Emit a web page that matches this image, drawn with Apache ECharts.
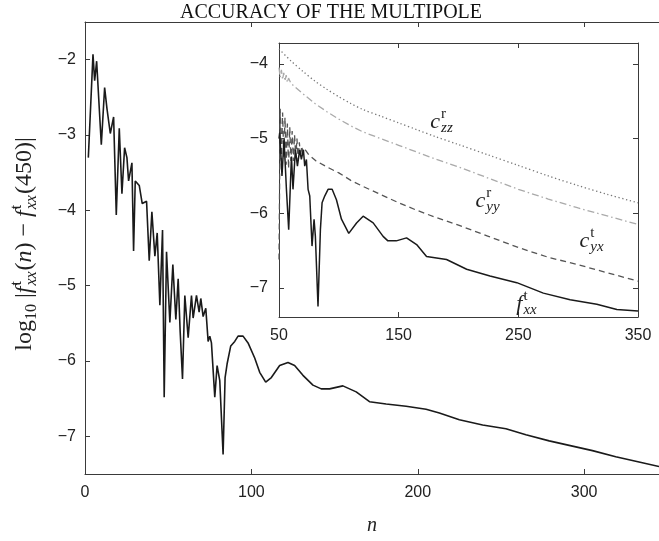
<!DOCTYPE html>
<html>
<head>
<meta charset="utf-8">
<script src="https://cdn.jsdelivr.net/npm/echarts@6/dist/echarts.min.js"></script>
<style>
  html, body { margin: 0; padding: 0; background: #fff; }
  #chart { width: 659px; height: 541px; }
</style>
</head>
<body>
<div id="chart"></div>
<script>
// main curve f_xx^t : [n, log10 error]
const fxxMain = [
  [2, -3.30], [4.8, -1.93], [5.8, -2.28], [7, -2.02], [9.8, -3.13], [11.8, -2.37],
  [13.2, -2.65], [15.2, -2.98], [17.2, -2.76], [18.8, -4.06], [20.6, -2.91], [22.2, -3.78],
  [23.8, -3.17], [25.2, -3.30], [26.2, -3.61], [28.2, -3.37], [29.2, -4.54], [30.2, -3.61],
  [32.6, -3.67], [34.4, -3.91], [37, -3.88], [38.6, -4.67], [40.2, -4.02], [42, -4.61],
  [43.4, -4.30], [45, -5.26], [46.6, -4.26], [47.6, -6.48], [49, -4.55], [51, -5.49],
  [52.8, -4.72], [54.6, -5.45], [56, -4.91], [57.2, -5.61], [58.6, -6.24], [60, -5.13],
  [62, -5.69], [64, -5.13], [65, -5.43], [67, -5.13], [68.6, -5.35], [69.6, -5.17],
  [71, -5.41], [72.6, -5.30], [74, -5.74], [75, -5.67], [76, -5.76], [78, -6.48],
  [79.4, -6.06], [81, -6.26], [83, -7.24], [84.2, -6.22], [85.4, -6.04], [86.6, -6.06],
  [87.6, -5.80], [90, -5.74], [92, -5.67], [95, -5.67], [98, -5.76], [102, -5.96],
  [105, -6.15], [108.6, -6.28], [112, -6.22], [117, -6.06], [122, -6.02], [126, -6.06],
  [131, -6.19], [137, -6.32], [142, -6.37], [147, -6.37], [155, -6.33], [163, -6.41],
  [171, -6.54], [181, -6.57], [193, -6.60], [205, -6.64], [213, -6.69], [225, -6.78],
  [239, -6.85], [253, -6.90], [265, -6.98], [279, -7.06], [293, -7.13], [305, -7.19],
  [319, -7.27], [333, -7.34], [345, -7.40]
];

// inset curves
const fxxInset = [
  [50, -5.00], [50.6, -4.92], [52.5, -5.50], [54.2, -5.01], [56.2, -5.68], [58.1, -6.22],
  [60.4, -5.24], [61.7, -5.68], [63.7, -5.15], [65.4, -5.37], [67.3, -5.15], [68.7, -5.28],
  [70.4, -5.15], [71.5, -5.37], [72.9, -5.28], [74.3, -5.68], [75.7, -5.77], [77.6, -6.44],
  [79.3, -6.08], [80.4, -6.31], [82.6, -7.25], [84.6, -6.22], [86, -5.86], [88.2, -5.77],
  [91, -5.68], [94.4, -5.68], [98, -5.82], [102.2, -6.08], [108.3, -6.27], [114.8, -6.13],
  [120.3, -6.04], [128.7, -6.13], [137, -6.31], [141, -6.37], [148, -6.37], [156.6, -6.33],
  [165, -6.42], [173.3, -6.58], [190, -6.62], [206.8, -6.75], [226.3, -6.84], [248.7, -6.93],
  [270.9, -7.07], [293.3, -7.16], [315.6, -7.22], [332.3, -7.29], [350, -7.31]
];
const czz = [
  [50, -3.80], [60, -3.96], [70, -4.10], [80, -4.23], [90, -4.34], [100, -4.44],
  [110, -4.53], [120, -4.61], [135, -4.70], [150, -4.79], [165, -4.88], [180, -4.97],
  [200, -5.08], [225, -5.22], [250, -5.36], [275, -5.50], [300, -5.63], [325, -5.75], [350, -5.86]
];
const cyy = [
  [50, -4.05], [51, -4.18], [52, -4.08], [53, -4.21], [54, -4.12], [55, -4.23], [56, -4.15],
  [57, -4.25], [58, -4.19], [60, -4.26], [70, -4.40], [80, -4.53], [90, -4.64], [100, -4.74],
  [110, -4.83], [120, -4.91], [135, -5.00], [150, -5.09], [165, -5.18], [180, -5.27],
  [200, -5.38], [225, -5.53], [250, -5.68], [275, -5.81], [300, -5.93], [325, -6.04], [350, -6.15]
];
const cyx = [
  [50, -6.62], [51, -4.60], [52, -5.30], [53, -4.65], [54, -5.25], [55, -4.72], [56, -5.35],
  [57, -4.80], [58, -5.40], [59, -4.85], [60, -5.30], [61, -4.90], [62, -5.30], [63, -4.95],
  [64, -5.25], [65, -5.00], [66, -5.30], [67, -5.05], [68, -5.25], [69, -5.10], [70, -5.20],
  [72, -5.15], [75, -5.22], [81, -5.30], [90, -5.38], [100, -5.46], [110, -5.56], [120, -5.64],
  [135, -5.75], [150, -5.86], [165, -5.96], [180, -6.05], [200, -6.16], [225, -6.31],
  [250, -6.46], [275, -6.59], [300, -6.69], [325, -6.80], [350, -6.91]
];

const mainXTicks = [0, 100, 200, 300];
const mainYTicks = [-7, -6, -5, -4, -3, -2];
const insetXTicks = [50, 150, 250, 350];
const insetYTicks = [-7, -6, -5, -4];

const SERIF = '"Liberation Serif", "DejaVu Serif", serif';
const SANS = '"Liberation Sans", Arial, sans-serif';
const AX = '#3a3a3a';

const mctx = document.createElement('canvas').getContext('2d');
function fontStr(size, it) { return (it ? 'italic ' : '') + size + 'px ' + SERIF; }
function tw(t, size, it) { mctx.font = fontStr(size, it); return mctx.measureText(t).width; }

// lay out math-ish text pieces left to right, returns graphic children + width
function mathPieces(pieces, fs) {
  const kids = [];
  let x = 0;
  const txt = (px, py, t, s, it) => ({
    type: 'text', x: px, y: py, z: 30,
    style: { text: t, font: fontStr(s, it), fill: '#222', verticalAlign: 'middle' }
  });
  pieces.forEach(p => {
    if (p.sup !== undefined) {
      const s = Math.round(fs * 0.68);
      const w = Math.max(tw(p.sup, s, false), tw(p.sub, s, true));
      kids.push(txt(x + 1, -fs * 0.36, p.sup, s, false));
      kids.push(txt(x + 1, fs * 0.28, p.sub, s, true));
      x += w + 2;
    } else {
      const s = p.sz ? Math.round(fs * p.sz) : fs;
      kids.push(txt(x, p.dy ? fs * p.dy : 0, p.t, s, p.it));
      x += tw(p.t, s, p.it);
    }
  });
  return { kids, width: x };
}

function label(cx, cy, pieces, fs, rot) {
  const m = mathPieces(pieces, fs);
  m.kids.forEach(k => { k.x -= m.width / 2; });
  return { type: 'group', x: cx, y: cy, z: 30, rotation: rot || 0, children: m.kids };
}

const fmt = v => String(v).replace('-', '\u2212');

const chart = echarts.init(document.getElementById('chart'));

const axisCommon = {
  type: 'value',
  axisLine: { show: true, lineStyle: { color: AX, width: 1 } },
  splitLine: { show: false },
  axisTick: { show: true, inside: true, length: 5, lineStyle: { color: AX } }
};

chart.setOption({
  backgroundColor: '#fff',
  animation: false,
  grid: [
    { left: 85, top: 22, right: 0, bottom: 60 },
    { left: 279, top: 43, right: 21, bottom: 224, show: true, backgroundColor: '#fff', borderWidth: 0 }
  ],
  xAxis: [
    Object.assign({}, axisCommon, {
      gridIndex: 0, min: 0, max: 345, position: 'bottom',
      axisTick: Object.assign({}, axisCommon.axisTick, { customValues: mainXTicks }),
      axisLabel: { customValues: mainXTicks, formatter: fmt, fontFamily: SANS, fontSize: 16, color: '#222', margin: 11 },
      name: 'n', nameLocation: 'middle', nameGap: 42,
      nameTextStyle: { fontFamily: SERIF, fontStyle: 'italic', fontSize: 20, color: '#222' }
    }),
    Object.assign({}, axisCommon, {
      gridIndex: 0, min: 0, max: 345, position: 'top',
      axisTick: Object.assign({}, axisCommon.axisTick, { customValues: mainXTicks }),
      axisLabel: { show: false }
    }),
    Object.assign({}, axisCommon, {
      gridIndex: 1, min: 50, max: 350, position: 'bottom',
      axisTick: Object.assign({}, axisCommon.axisTick, { customValues: insetXTicks }),
      axisLabel: { customValues: insetXTicks, formatter: fmt, fontFamily: SANS, fontSize: 16, color: '#222', margin: 11 }
    }),
    Object.assign({}, axisCommon, {
      gridIndex: 1, min: 50, max: 350, position: 'top',
      axisTick: Object.assign({}, axisCommon.axisTick, { customValues: insetXTicks }),
      axisLabel: { show: false }
    })
  ],
  yAxis: [
    Object.assign({}, axisCommon, {
      gridIndex: 0, min: -7.5, max: -1.5, position: 'left',
      axisTick: Object.assign({}, axisCommon.axisTick, { customValues: mainYTicks }),
      axisLabel: { customValues: mainYTicks, formatter: fmt, fontFamily: SANS, fontSize: 16, color: '#222', margin: 9 }
    }),
    Object.assign({}, axisCommon, {
      gridIndex: 1, min: -7.39, max: -3.72, position: 'left',
      axisTick: Object.assign({}, axisCommon.axisTick, { customValues: insetYTicks }),
      axisLabel: { customValues: insetYTicks, formatter: fmt, fontFamily: SANS, fontSize: 16, color: '#222', margin: 11 }
    }),
    Object.assign({}, axisCommon, {
      gridIndex: 1, min: -7.39, max: -3.72, position: 'right',
      axisTick: Object.assign({}, axisCommon.axisTick, { customValues: insetYTicks }),
      axisLabel: { show: false }
    })
  ],
  series: [
    { type: 'line', xAxisIndex: 0, yAxisIndex: 0, data: fxxMain, showSymbol: false,
      lineStyle: { color: '#1a1a1a', width: 1.6 } },
    { type: 'line', xAxisIndex: 2, yAxisIndex: 1, data: czz, showSymbol: false, smooth: 0.3,
      lineStyle: { color: '#777', width: 1.3, type: [1.3, 2.6] } },
    { type: 'line', xAxisIndex: 2, yAxisIndex: 1, data: cyy, showSymbol: false,
      lineStyle: { color: '#aaa', width: 1.3, type: [7, 3, 1.5, 3] } },
    { type: 'line', xAxisIndex: 2, yAxisIndex: 1, data: cyx, showSymbol: false,
      lineStyle: { color: '#555', width: 1.3, type: [6, 4] } },
    { type: 'line', xAxisIndex: 2, yAxisIndex: 1, data: fxxInset, showSymbol: false,
      lineStyle: { color: '#1a1a1a', width: 1.5 } }
  ],
  graphic: [
    { type: 'text', x: 331, y: 13, z: 30,
      style: { text: 'ACCURACY OF THE MULTIPOLE', font: '20px ' + SERIF, fill: '#111', align: 'center', verticalAlign: 'middle' } },
    label(25, 244, [
      { t: 'log' }, { t: '10', sz: 0.68, dy: 0.3 }, { t: ' |' }, { t: 'f', it: true }, { sup: 't', sub: 'xx' },
      { t: '(' }, { t: 'n', it: true }, { t: ') \u2212 ' }, { t: 'f', it: true }, { sup: 't', sub: 'xx' }, { t: '(450)|' }
    ], 24, Math.PI / 2),
    label(442, 122, [{ t: 'c', it: true }, { sup: 'r', sub: 'zz' }], 22),
    label(488, 201, [{ t: 'c', it: true }, { sup: 'r', sub: 'yy' }], 22),
    label(592, 241, [{ t: 'c', it: true }, { sup: 't', sub: 'yx' }], 22),
    label(527, 304, [{ t: 'f', it: true }, { sup: 't', sub: 'xx' }], 22)
  ]
});
</script>
</body>
</html>
